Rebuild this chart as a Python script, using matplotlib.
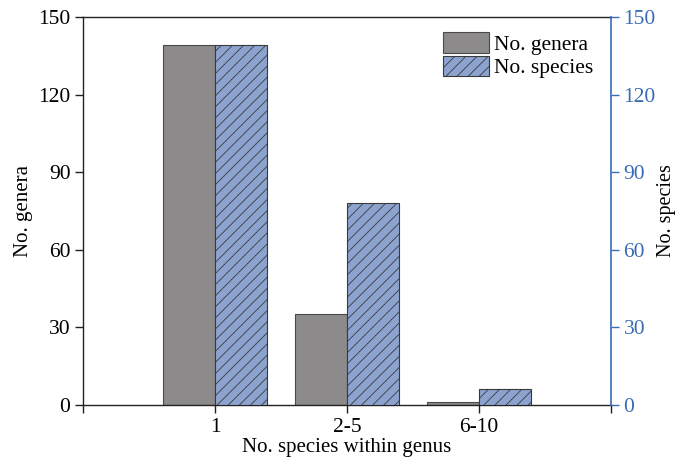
import matplotlib
matplotlib.use("Agg")
import matplotlib.pyplot as plt
import numpy as np

categories = ["1", "2-5", "6-10"]
genera = [139, 35, 1]
species = [139, 78, 6]

plt.rcParams['font.family'] = ['Liberation Serif', 'DejaVu Serif']
plt.rcParams['font.size'] = 15.5
plt.rcParams['hatch.linewidth'] = 0.6

blue_axis = '#3A6BB5'
fig = plt.figure(figsize=(6.78, 4.66), dpi=100)
ax = fig.add_axes([83/678, 1-405/466, (611-83)/678, (405-17)/466])
ax2 = ax.twinx()

x = np.arange(1, len(categories)+1)
w = 0.395
b1 = ax.bar(x - w/2, genera, width=w, color='#8C8A8B', edgecolor='#4a4a4a', linewidth=0.8, label='No. genera')
b2 = ax2.bar(x + w/2, species, width=w, color='#8DA3CF', edgecolor='#3a3a3a', linewidth=0.8, hatch='///', label='No. species')

ax.set_xlim(0, 4)
ax.set_ylim(0, 150)
ax2.set_ylim(0, 150)
ax.set_yticks([0, 30, 60, 90, 120, 150])
ax2.set_yticks([0, 30, 60, 90, 120, 150])
ax.set_xticks([0, 1, 2, 3, 4])
ax.set_xticklabels(['', '1', '2-5', '6-10', ''])

ax.tick_params(axis='both', direction='out', length=6, width=1, color='#222222', pad=3)
ax2.tick_params(axis='y', direction='out', length=6, width=1, color=blue_axis, labelcolor=blue_axis, pad=3)

for s in ['left', 'top', 'bottom']:
    ax.spines[s].set_color('#222222')
    ax.spines[s].set_linewidth(1.0)
ax2.spines['right'].set_color(blue_axis)
ax2.spines['right'].set_linewidth(1.2)
ax2.spines['left'].set_visible(False)
ax2.spines['top'].set_visible(False)
ax2.spines['bottom'].set_visible(False)
ax.spines['right'].set_visible(False)

ax.set_ylabel('No. genera', labelpad=4, fontsize=15)
ax2.set_ylabel('No. species', labelpad=1, fontsize=14.5)
ax.set_xlabel('No. species within genus', labelpad=1, fontsize=15)

ax2.legend([b1, b2], ['No. genera', 'No. species'], loc='upper right',
           bbox_to_anchor=(0.995, 1.0), frameon=False, handlelength=2.1,
           handleheight=1.1, handletextpad=0.25, labelspacing=0.05, borderaxespad=0.3)

fig.savefig('out.png', dpi=100)
